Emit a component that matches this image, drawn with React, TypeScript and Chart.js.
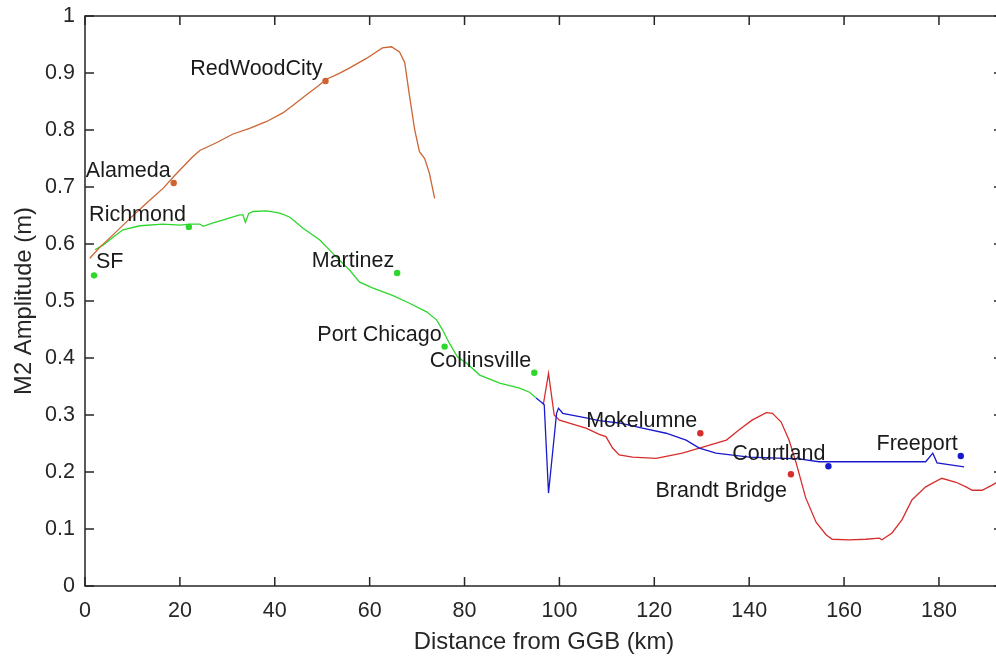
import React, { useEffect, useRef } from "react";
import { Chart, registerables } from "chart.js";

Chart.register(...registerables);

// ---- Data ----
const orangeX = [1.0, 3.2, 5.9, 9.5, 13.0, 16.5, 19.0, 22.7, 24.2, 27.8, 31.2, 34.7, 38.3, 41.7, 43.8, 46.7, 48.8, 50.9, 53.5, 55.8, 59.4, 62.7, 64.6, 66.3, 67.4, 68.4, 69.5, 70.5, 71.6, 72.6, 73.7];
const orangeY = [0.575, 0.595, 0.616, 0.645, 0.672, 0.698, 0.721, 0.753, 0.764, 0.778, 0.793, 0.803, 0.815, 0.83, 0.843, 0.862, 0.875, 0.889, 0.899, 0.909, 0.926, 0.944, 0.946, 0.937, 0.918, 0.86, 0.8, 0.762, 0.75, 0.724, 0.68];

const greenX = [2.1, 3.8, 5.9, 8.0, 11.6, 16.4, 20.0, 22.1, 24.2, 24.9, 27.0, 29.0, 32.6, 33.3, 33.8, 34.5, 35.4, 38.3, 41.1, 43.2, 45.9, 49.5, 53.0, 55.8, 57.9, 60.6, 64.8, 68.4, 72.0, 74.1, 75.4, 76.8, 78.5, 80.4, 83.2, 87.4, 91.6, 93.7, 95.1];
const greenY = [0.59, 0.598, 0.612, 0.625, 0.632, 0.635, 0.633, 0.635, 0.635, 0.631, 0.637, 0.642, 0.651, 0.651, 0.638, 0.653, 0.657, 0.658, 0.654, 0.647, 0.628, 0.607, 0.577, 0.554, 0.533, 0.523, 0.51, 0.496, 0.481, 0.467, 0.449, 0.426, 0.402, 0.391, 0.37, 0.356, 0.347, 0.34, 0.33];

const blueX = [95.1, 96.4, 96.8, 97.7, 99.4, 99.8, 100.7, 105.6, 108.4, 112.6, 117.5, 122.5, 126.7, 129.5, 133.0, 140.0, 150.5, 154.7, 156.8, 177.2, 178.7, 179.6, 185.3];
const blueY = [0.33, 0.321, 0.318, 0.163, 0.303, 0.312, 0.303, 0.295, 0.29, 0.286, 0.277, 0.268, 0.256, 0.242, 0.233, 0.226, 0.223, 0.218, 0.218, 0.218, 0.233, 0.216, 0.209];

const redX = [96.6, 97.7, 98.9, 100.0, 105.6, 108.4, 109.8, 111.2, 112.6, 115.4, 120.4, 125.9, 129.5, 135.2, 137.9, 140.6, 143.6, 144.9, 146.7, 148.4, 149.9, 151.9, 154.1, 156.2, 157.5, 161.0, 164.6, 167.4, 168.0, 170.1, 172.2, 174.3, 177.2, 180.6, 183.6, 185.7, 187.0, 189.1, 191.2, 193.5];
const redY = [0.318, 0.373, 0.3, 0.291, 0.277, 0.266, 0.262, 0.242, 0.23, 0.226, 0.224, 0.233, 0.242, 0.256, 0.274, 0.291, 0.304, 0.303, 0.288, 0.256, 0.216, 0.155, 0.112, 0.09, 0.082, 0.081, 0.082, 0.084, 0.081, 0.093, 0.116, 0.151, 0.174, 0.189, 0.182, 0.174, 0.168, 0.168, 0.177, 0.188];

// Stations (markers + labels)
const greenStations = ["SF", "Richmond", "Martinez", "Port Chicago", "Collinsville"];
const greenStationKm = [1.9, 21.9, 65.8, 75.8, 94.7];
const greenStationAmp = [0.545, 0.63, 0.549, 0.42, 0.374];

const orangeStations = ["Alameda", "RedWoodCity"];
const orangeStationKm = [18.7, 50.7];
const orangeStationAmp = [0.707, 0.886];

const redStations = ["Mokelumne", "Brandt Bridge"];
const redStationKm = [129.7, 148.8];
const redStationAmp = [0.268, 0.196];

const blueStations = ["Courtland", "Freeport"];
const blueStationKm = [156.7, 184.6];
const blueStationAmp = [0.21, 0.228];

const X_MIN = 0;
const X_MAX = 193.5;
const X_STEP = 20;
const Y_MIN = 0;
const Y_MAX = 1;
const Y_STEP = 0.1;
const X_TITLE = "Distance from GGB (km)";
const Y_TITLE = "M2 Amplitude (m)";

// ---- Styles ----
const FONT = "'Liberation Sans', Arial, Helvetica, sans-serif";
const AXIS_COLOR = "#262626";
const C_ORANGE = "rgb(205,100,50)";
const C_GREEN = "rgb(45,215,45)";
const C_BLUE = "rgb(25,25,205)";
const C_RED = "rgb(215,45,45)";

const CANVAS_W = 1007;
const CANVAS_H = 658;

const zip = (xs: number[], ys: number[]) => xs.map((x, i) => ({ x, y: ys[i] }));

const allStations = [
  ...greenStations.map((n, i) => ({ n, x: greenStationKm[i], y: greenStationAmp[i] })),
  ...orangeStations.map((n, i) => ({ n, x: orangeStationKm[i], y: orangeStationAmp[i] })),
  ...redStations.map((n, i) => ({ n, x: redStationKm[i], y: redStationAmp[i] })),
  ...blueStations.map((n, i) => ({ n, x: blueStationKm[i], y: blueStationAmp[i] })),
];

const labelsPlugin = {
  id: "stationLabels",
  afterDatasetsDraw(chart: any) {
    const { ctx, scales } = chart;
    const xs = scales.x;
    const ys = scales.y;
    ctx.save();
    ctx.font = `21.5px ${FONT}`;
    ctx.fillStyle = "#1a1a1a";
    ctx.textBaseline = "middle";
    for (const s of allStations) {
      const px = xs.getPixelForValue(s.x);
      const py = ys.getPixelForValue(s.y);
      if (s.n === "SF") {
        ctx.textAlign = "left";
        ctx.fillText(s.n, px + 2, py - 13);
      } else if (s.n === "Brandt Bridge") {
        ctx.textAlign = "right";
        ctx.fillText(s.n, px - 4, py + 17);
      } else {
        ctx.textAlign = "right";
        ctx.fillText(s.n, px - 3, py - 12);
      }
    }
    ctx.restore();
  },
};

const framePlugin = {
  id: "matlabFrame",
  afterDraw(chart: any) {
    const { ctx, chartArea, scales } = chart;
    const { left, right, top, bottom } = chartArea;
    const TL = 9;
    ctx.save();
    ctx.strokeStyle = AXIS_COLOR;
    ctx.lineWidth = 1.5;
    ctx.beginPath();
    ctx.rect(left, top, right - left, bottom - top);
    ctx.stroke();
    ctx.beginPath();
    for (const t of scales.x.ticks) {
      const px = scales.x.getPixelForValue(t.value);
      ctx.moveTo(px, bottom);
      ctx.lineTo(px, bottom - TL);
      ctx.moveTo(px, top);
      ctx.lineTo(px, top + TL);
    }
    for (const t of scales.y.ticks) {
      const py = scales.y.getPixelForValue(t.value);
      ctx.moveTo(left, py);
      ctx.lineTo(left + TL, py);
      ctx.moveTo(right, py);
      ctx.lineTo(right - TL, py);
    }
    ctx.stroke();
    ctx.restore();
  },
};

function lineDs(xs: number[], ys: number[], color: string) {
  return {
    type: "line" as const,
    data: zip(xs, ys),
    borderColor: color,
    backgroundColor: color,
    borderWidth: 1.3,
    pointRadius: 0,
    tension: 0,
    fill: false,
  };
}

function dotDs(xs: number[], ys: number[], color: string) {
  return {
    type: "scatter" as const,
    data: zip(xs, ys),
    borderColor: color,
    backgroundColor: color,
    pointRadius: 3.2,
    pointBorderWidth: 0,
    showLine: false,
  };
}

export default function App() {
  const ref = useRef<HTMLCanvasElement | null>(null);

  useEffect(() => {
    if (!ref.current) return;
    const chart = new Chart(ref.current, {
      type: "line",
      data: {
        datasets: [
          lineDs(orangeX, orangeY, C_ORANGE),
          lineDs(greenX, greenY, C_GREEN),
          lineDs(blueX, blueY, C_BLUE),
          lineDs(redX, redY, C_RED),
          dotDs(greenStationKm, greenStationAmp, C_GREEN),
          dotDs(orangeStationKm, orangeStationAmp, C_ORANGE),
          dotDs(redStationKm, redStationAmp, C_RED),
          dotDs(blueStationKm, blueStationAmp, C_BLUE),
        ] as any,
      },
      options: {
        animation: false,
        responsive: false,
        maintainAspectRatio: false,
        layout: { padding: { left: 0, top: 16, right: 0, bottom: 0 } },
        plugins: {
          legend: { display: false },
          tooltip: { enabled: false },
        },
        scales: {
          x: {
            type: "linear",
            min: X_MIN,
            max: X_MAX,
            grid: { display: false, drawTicks: true, tickLength: 12 },
            border: { display: false },
            ticks: {
              stepSize: X_STEP,
              includeBounds: false,
              autoSkip: false,
              maxRotation: 0,
              padding: 0,
              color: AXIS_COLOR,
              font: { family: FONT, size: 21.5 },
            },
            title: {
              display: true,
              text: X_TITLE,
              color: AXIS_COLOR,
              font: { family: FONT, size: 23.8 },
              padding: { top: 0, bottom: 1 },
            },
            afterFit: (s: any) => {
              s.height = 72;
            },
          },
          y: {
            type: "linear",
            min: Y_MIN,
            max: Y_MAX,
            grid: { display: false, drawTicks: true, tickLength: 10 },
            border: { display: false },
            ticks: {
              stepSize: Y_STEP,
              autoSkip: false,
              padding: 0,
              color: AXIS_COLOR,
              font: { family: FONT, size: 21.5 },
              callback: (v: any) => String(Number(Number(v).toFixed(1))),
            },
            title: {
              display: true,
              text: Y_TITLE,
              color: AXIS_COLOR,
              font: { family: FONT, size: 23.8 },
              padding: { top: 10, bottom: 0 },
            },
            afterFit: (s: any) => {
              s.width = 85;
            },
          },
        },
      },
      plugins: [labelsPlugin, framePlugin],
    });
    return () => chart.destroy();
  }, []);

  return (
    <div style={{ position: "fixed", left: 0, top: 0, width: 996, height: 658, overflow: "hidden", background: "#fff" }}>
      <canvas ref={ref} width={CANVAS_W} height={CANVAS_H} style={{ display: "block" }} />
    </div>
  );
}
